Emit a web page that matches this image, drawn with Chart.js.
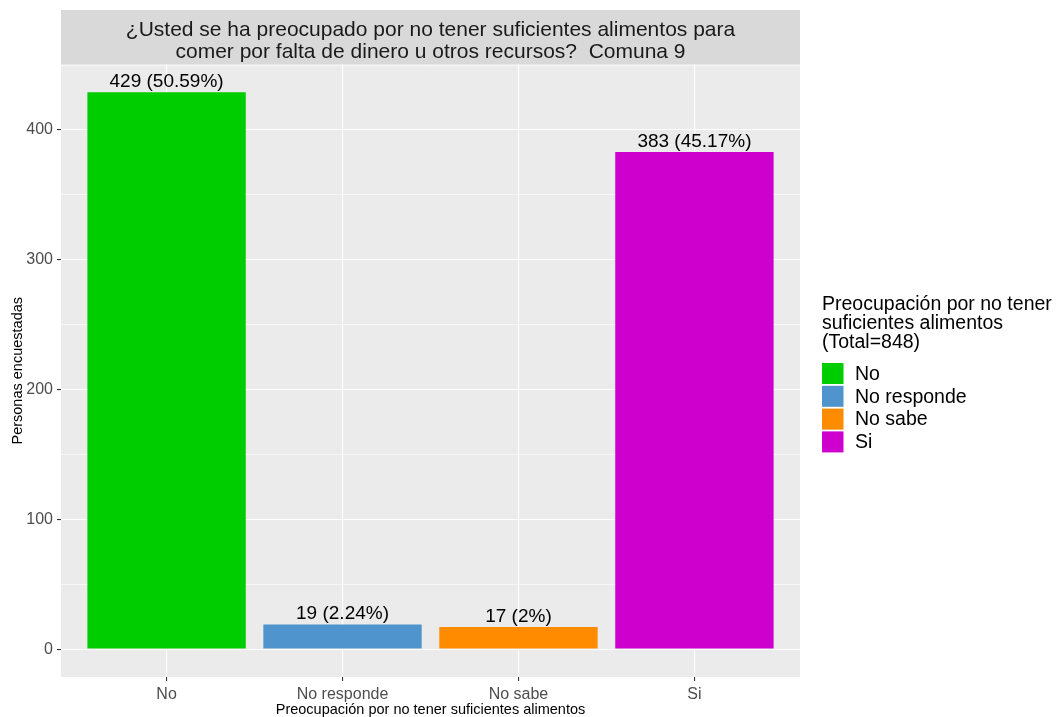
<!DOCTYPE html>
<html>
<head>
<meta charset="utf-8">
<script src="https://cdn.jsdelivr.net/npm/chart.js@4.4.0/dist/chart.umd.min.js"></script>
<style>
  body { margin: 0; background: #ffffff; }
  #grafico { display: block; }
</style>
</head>
<body>
<canvas id="grafico" width="1056" height="717"></canvas>
<script>
// datos
const categorias = ['No', 'No responde', 'No sabe', 'Si'];
const personas = [429, 19, 17, 383];
const colores = ['#00CD00', '#4F94CD', '#FF8C00', '#CD00CD'];
const ticksY = [0, 100, 200, 300, 400];
const total = 848;

const tituloLineas = [
    '¿Usted se ha preocupado por no tener suficientes alimentos para',
    'comer por falta de dinero u otros recursos?  Comuna 9'
];
const leyendaTitulo = ['Preocupación por no tener', 'suficientes alimentos', '(Total=' + total + ')'];
const fuente = '"Liberation Sans", Arial, sans-serif';

function etiqueta(v) {
    const pct = Math.round(v / total * 10000) / 100;
    return v + ' (' + pct + '%)';
}

// fondo gris del panel y franja del título
const fondoPanel = {
    id: 'fondoPanel',
    beforeDraw(chart) {
        const { ctx, chartArea: a } = chart;
        ctx.save();
        ctx.fillStyle = '#EBEBEB';
        ctx.fillRect(a.left, a.top, a.right - a.left, a.bottom - a.top);
        ctx.fillStyle = '#D9D9D9';
        ctx.fillRect(a.left, 10, a.right - a.left, a.top - 10);
        ctx.fillStyle = '#1A1A1A';
        ctx.font = '21px ' + fuente;
        ctx.textAlign = 'center';
        ctx.textBaseline = 'alphabetic';
        const cx = (a.left + a.right) / 2;
        ctx.fillText(tituloLineas[0], cx, 35.7);
        ctx.fillText(tituloLineas[1], cx, 58.3);
        ctx.restore();
    }
};

// etiquetas sobre las barras y leyenda a la derecha
const textos = {
    id: 'textos',
    afterDatasetsDraw(chart) {
        const { ctx } = chart;
        const meta = chart.getDatasetMeta(0);
        ctx.save();
        ctx.fillStyle = '#000000';
        ctx.font = '19px ' + fuente;
        ctx.textAlign = 'center';
        ctx.textBaseline = 'alphabetic';
        meta.data.forEach((bar, i) => {
            ctx.fillText(etiqueta(personas[i]), bar.x, bar.y - 5);
        });
        ctx.restore();
    },
    afterDraw(chart) {
        const { ctx } = chart;
        const x0 = 822;
        ctx.save();
        ctx.fillStyle = '#000000';
        ctx.font = '19.5px ' + fuente;
        ctx.textAlign = 'left';
        ctx.textBaseline = 'alphabetic';
        leyendaTitulo.forEach((t, i) => ctx.fillText(t, x0, 310 + i * 19));
        categorias.forEach((c, i) => {
            const y = 363 + i * 22.8;
            ctx.fillStyle = colores[i];
            ctx.fillRect(x0, y, 21.5, 21);
            ctx.fillStyle = '#000000';
            ctx.textBaseline = 'middle';
            ctx.fillText(c, 855, y + 11.5);
        });
        ctx.restore();
    }
};

const ctx = document.getElementById('grafico').getContext('2d');
new Chart(ctx, {
    type: 'bar',
    data: {
        datasets: [{
            data: personas.map((v, i) => ({ x: i, y: v })),
            backgroundColor: colores,
            borderWidth: 0,
            barPercentage: 0.9,
            categoryPercentage: 1.0
        }]
    },
    options: {
        responsive: false,
        animation: false,
        layout: { padding: { top: 64.5, right: 256, left: 0, bottom: 0 } },
        plugins: { legend: { display: false }, tooltip: { enabled: false } },
        scales: {
            x: {
                type: 'linear',
                min: -0.6,
                max: 3.6,
                offset: false,
                afterFit: s => { s.height = 40; },
                border: { display: false },
                grid: { offset: false, color: '#FFFFFF', lineWidth: 1.1, tickColor: '#333333', tickLength: 4, tickWidth: 1.1 },
                ticks: {
                    stepSize: 1, includeBounds: false, autoSkip: false, maxRotation: 0, padding: 4,
                    color: '#4D4D4D', font: { family: fuente, size: 16 },
                    callback: v => categorias[v] !== undefined ? categorias[v] : ''
                },
                title: {
                    display: true, text: 'Preocupación por no tener suficientes alimentos',
                    color: '#000000', font: { family: fuente, size: 14.5, lineHeight: 0.9 },
                    padding: { top: 0, bottom: 0 }
                }
            },
            y: {
                min: -21.45,
                max: 450.45,
                afterFit: s => { s.width = 61; },
                border: { display: false },
                grid: {
                    color: '#FFFFFF',
                    lineWidth: c => (c.tick && ticksY.includes(c.tick.value)) ? 1.1 : 0.55,
                    tickColor: c => (c.tick && ticksY.includes(c.tick.value)) ? '#333333' : 'rgba(0,0,0,0)',
                    tickLength: 4,
                    tickWidth: 1.1
                },
                ticks: {
                    stepSize: 50, includeBounds: false, padding: 4,
                    color: '#4D4D4D', font: { family: fuente, size: 16 },
                    callback: v => ticksY.includes(v) ? String(v) : ''
                },
                title: {
                    display: true, text: 'Personas encuestadas',
                    color: '#000000', font: { family: fuente, size: 14.5 },
                    padding: { top: 9, bottom: 0 }
                }
            }
        }
    },
    plugins: [fondoPanel, textos]
});
</script>
</body>
</html>
